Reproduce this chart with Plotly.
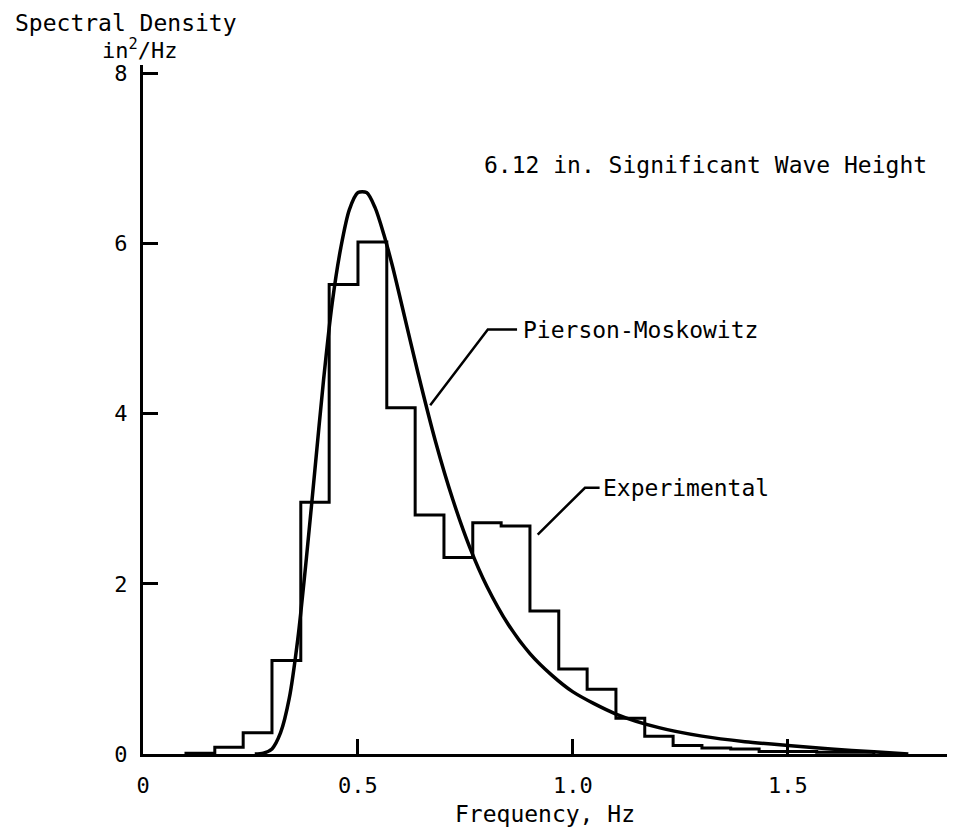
import plotly.graph_objects as go

# Measured wave spectrum: bin edges (Hz) and spectral density per bin (in^2/Hz)
bin_edges = [0.100, 0.167, 0.233, 0.300, 0.367, 0.433, 0.500, 0.567, 0.633,
             0.700, 0.767, 0.833, 0.900, 0.967, 1.033, 1.100, 1.167, 1.233,
             1.300, 1.367, 1.433, 1.500, 1.567, 1.633, 1.700]
exp_density = [0.01, 0.08, 0.25, 1.10, 2.96, 5.52, 6.02, 4.07, 2.81, 2.31,
               2.72, 2.68, 1.68, 1.00, 0.76, 0.42, 0.21, 0.10, 0.07, 0.06,
               0.03, 0.03, 0.02, 0.02]

# Pierson-Moskowitz reference spectrum
pm_freq = [0.26, 0.28, 0.30, 0.32, 0.34, 0.36, 0.38, 0.40, 0.42, 0.44, 0.46,
           0.48, 0.50, 0.52, 0.54, 0.56, 0.58, 0.60, 0.64, 0.68, 0.72, 0.76,
           0.80, 0.85, 0.90, 0.95, 1.00, 1.10, 1.20, 1.30, 1.40, 1.50, 1.60,
           1.70, 1.78]
pm_density = [0.00, 0.01, 0.06, 0.25, 0.65, 1.35, 2.30, 3.35, 4.40, 5.30, 5.95,
              6.40, 6.60, 6.60, 6.42, 6.11, 5.74, 5.32, 4.47, 3.68, 3.00, 2.43,
              1.97, 1.52, 1.18, 0.93, 0.73, 0.47, 0.31, 0.21, 0.145, 0.10, 0.06,
              0.025, 0.00]

x_ticks = [0, 0.5, 1.0, 1.5]
x_tick_text = ["0", "0.5", "1.0", "1.5"]
y_ticks = [0, 2, 4, 6, 8]
y_tick_text = ["0", "2", "4", "6", "8"]

FONT = "DejaVu Sans Mono"

# Step outline of the histogram (hv steps closed to zero at both ends)
step_x = [bin_edges[0]] + bin_edges[:-1] + [bin_edges[-1]]
step_y = [0] + exp_density + [0]

fig = go.Figure()

fig.add_trace(go.Scatter(
    x=step_x, y=step_y, mode="lines",
    line=dict(color="black", width=3, shape="hv"),
    name="Experimental", showlegend=False, hoverinfo="skip",
))

fig.add_trace(go.Scatter(
    x=pm_freq, y=pm_density, mode="lines",
    line=dict(color="black", width=3.5, shape="spline", smoothing=0.8),
    name="Pierson-Moskowitz", showlegend=False, hoverinfo="skip",
))

# Leader lines for the curve labels
fig.add_trace(go.Scatter(
    x=[0.668, 0.802, 0.870], y=[4.10, 4.99, 4.99], mode="lines",
    line=dict(color="black", width=2.5), showlegend=False, hoverinfo="skip",
))
fig.add_trace(go.Scatter(
    x=[0.918, 1.028, 1.062], y=[2.58, 3.13, 3.13], mode="lines",
    line=dict(color="black", width=2.5), showlegend=False, hoverinfo="skip",
))

annotations = [
    dict(text="6.12 in. Significant Wave Height", x=0.788, y=6.93,
         xref="x", yref="y", xanchor="left", yanchor="middle", showarrow=False,
         font=dict(family=FONT, size=23, color="black")),
    dict(text="Pierson-Moskowitz", x=0.880, y=4.99,
         xref="x", yref="y", xanchor="left", yanchor="middle", showarrow=False,
         font=dict(family=FONT, size=23, color="black")),
    dict(text="Experimental", x=1.066, y=3.13,
         xref="x", yref="y", xanchor="left", yanchor="middle", showarrow=False,
         font=dict(family=FONT, size=23, color="black")),
    dict(text="Spectral Density", x=-0.1617, y=1.061,
         xref="paper", yref="paper", xanchor="left", yanchor="middle",
         showarrow=False, font=dict(family=FONT, size=23, color="black")),
    dict(text="in<sup>2</sup>/Hz", x=-0.0037, y=1.0233,
         xref="paper", yref="paper", xanchor="center", yanchor="middle",
         showarrow=False, font=dict(family=FONT, size=22, color="black")),
    dict(text="Frequency, Hz", x=0.5, y=-0.0871,
         xref="paper", yref="paper", xanchor="center", yanchor="middle",
         showarrow=False, font=dict(family=FONT, size=23, color="black")),
]

fig.update_layout(
    width=953, height=829,
    margin=dict(l=143, r=6, t=65, b=75, pad=0),
    paper_bgcolor="white", plot_bgcolor="white",
    showlegend=False,
    annotations=annotations,
)

fig.update_xaxes(
    range=[0, 1.87], showgrid=False, zeroline=False,
    showline=True, linecolor="black", linewidth=3, mirror=False,
    ticks="inside", ticklen=15, tickwidth=3, tickcolor="black",
    tickvals=x_ticks, ticktext=x_tick_text, ticklabelstandoff=10,
    tickfont=dict(family=FONT, size=22, color="black"),
)
fig.update_yaxes(
    range=[0, 8.1], showgrid=False, zeroline=False,
    showline=True, linecolor="black", linewidth=3, mirror=False,
    ticks="inside", ticklen=15, tickwidth=3, tickcolor="black",
    tickvals=y_ticks, ticktext=y_tick_text, ticklabelstandoff=8,
    tickfont=dict(family=FONT, size=22, color="black"),
)

fig.write_html("out.html")
